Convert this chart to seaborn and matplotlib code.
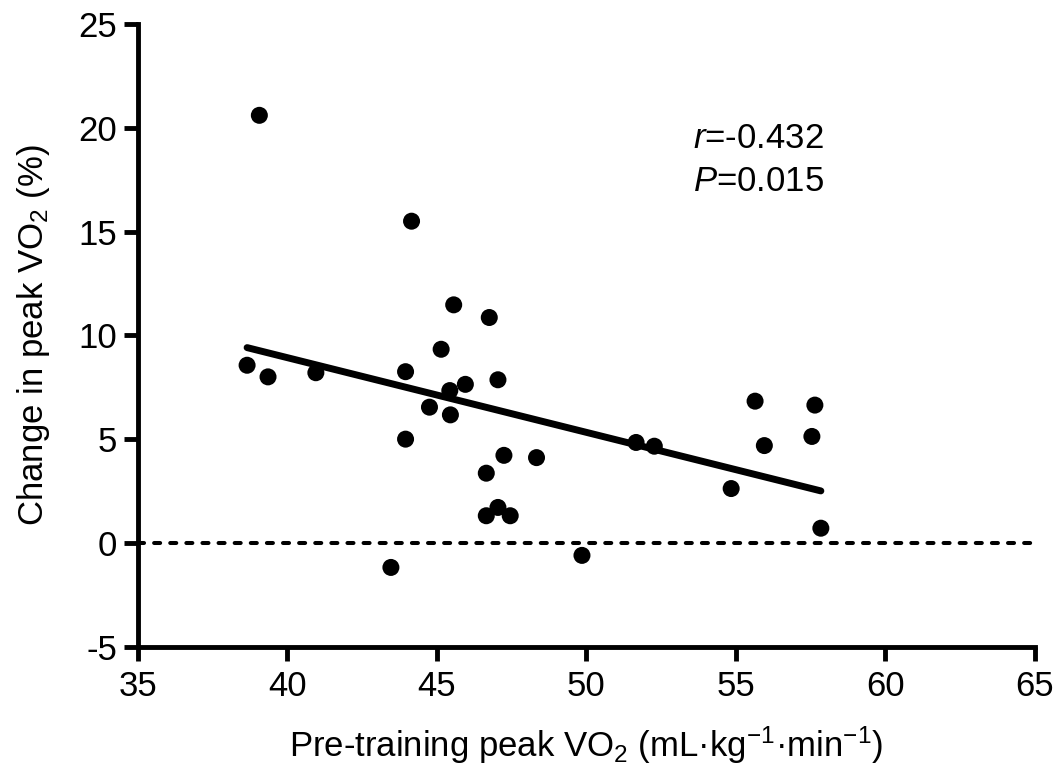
import numpy as np
import pandas as pd
import matplotlib
matplotlib.use("Agg")
import matplotlib.pyplot as plt
import seaborn as sns

# Pre-training peak VO2 (mL/kg/min) and training-induced change (%)
pre_vo2 = [38.65, 39.35, 39.06, 40.95, 43.95, 43.95, 43.46, 44.15, 44.75, 45.14,
           45.43, 45.45, 45.56, 45.95, 46.65, 46.65, 46.75, 47.04, 47.04, 47.24,
           47.45, 48.33, 49.85, 51.66, 52.27, 54.84, 55.64, 55.95, 57.54, 57.64,
           57.84]
change_pct = [8.56, 8.00, 20.6, 8.2, 8.25, 5.0, -1.18, 15.5, 6.54, 9.33,
              7.34, 6.17, 11.47, 7.64, 3.36, 1.31, 10.86, 7.86, 1.71, 4.22,
              1.31, 4.11, -0.6, 4.84, 4.66, 2.62, 6.83, 4.69, 5.13, 6.64,
              0.71]

x_ticks = [35, 40, 45, 50, 55, 60, 65]
y_ticks = [-5, 0, 5, 10, 15, 20, 25]
stats_lines = [r"$\mathit{r}$=-0.432", r"$\mathit{P}$=0.015"]

df = pd.DataFrame({"pre": pre_vo2, "change": change_pct})

sns.set_theme(style="ticks")
plt.rcParams["font.family"] = ["Liberation Sans", "DejaVu Sans"]
plt.rcParams["mathtext.fontset"] = "custom"
plt.rcParams["mathtext.rm"] = "Liberation Sans"
plt.rcParams["mathtext.it"] = "Liberation Sans:italic"
plt.rcParams["mathtext.bf"] = "Liberation Sans:bold"
plt.rcParams["axes.unicode_minus"] = False
plt.rcParams["text.color"] = "black"
plt.rcParams["axes.labelcolor"] = "black"

fig = plt.figure(figsize=(10.58, 7.64), dpi=100)
ax = fig.add_axes([0.1304, 0.1535, 0.8478, 0.8151])

# zero reference line
ax.axhline(0, color="black", lw=2.9, ls=(0, (1.5, 2.5)),
           dash_capstyle="round", zorder=1)

sns.regplot(data=df, x="pre", y="change", ci=None, ax=ax,
            scatter_kws=dict(s=150, color="black", alpha=1, edgecolor="none", zorder=3),
            line_kws=dict(color="black", lw=5, solid_capstyle="round", zorder=2))

ax.set_xlim(35, 65)
ax.set_ylim(-5, 25)
ax.set_xticks(x_ticks)
ax.set_yticks(y_ticks)
ax.tick_params(axis="both", labelsize=25, width=3.5, length=10, direction="out",
               color="black", labelcolor="black")
ax.tick_params(axis="x", pad=7)
ax.tick_params(axis="y", pad=5)
for side in ("top", "right"):
    ax.spines[side].set_visible(False)
for side in ("left", "bottom"):
    ax.spines[side].set_linewidth(3.5)
    ax.spines[side].set_color("black")
    ax.spines[side].set_capstyle("projecting")

ax.set_xlabel(r"Pre-training peak VO$_2$ (mL·kg$^{-1}$·min$^{-1}$)", fontsize=25,
              color="black", labelpad=15)
ax.set_ylabel(r"Change in peak VO$_2$ (%)", fontsize=25, color="black", labelpad=19)

ax.text(53.55, 19.5, stats_lines[0], fontsize=25, va="center", ha="left", color="black")
ax.text(53.55, 17.4, stats_lines[1], fontsize=25, va="center", ha="left", color="black")

fig.savefig("out.png", dpi=100)
